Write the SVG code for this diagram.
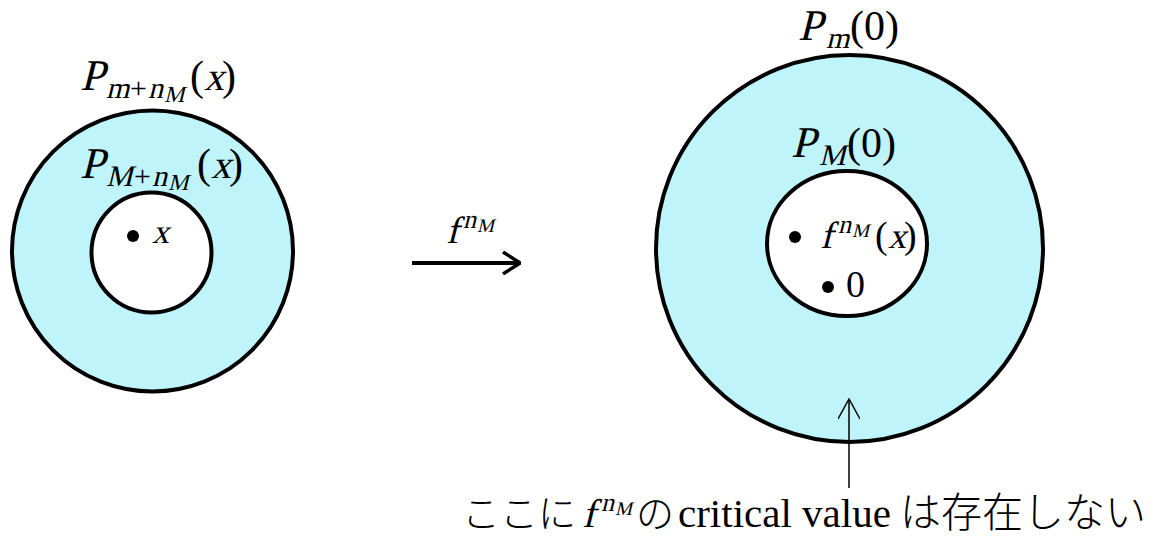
<svg xmlns="http://www.w3.org/2000/svg" width="1168" height="538" viewBox="0 0 1168 538">
<style>
.ann{fill:#bff5fa;stroke:#000;stroke-width:4}
.hole{fill:#fff;stroke:#000;stroke-width:4}
.m,.r{font-family:"Liberation Serif",serif;font-style:normal;fill:#000}
.jp{font-family:"Noto Sans CJK JP",sans-serif;font-weight:300;fill:#000}
.dot{fill:#000}
</style>
<defs>
<marker id="open" viewBox="0 0 20 24" refX="19" refY="12" markerWidth="20" markerHeight="24" markerUnits="userSpaceOnUse" orient="auto">
<path d="M2 1 L19 12 L2 23" fill="none" stroke="#000" stroke-width="3.5"/>
</marker>
<marker id="thin" viewBox="0 0 26 22" refX="25" refY="11" markerWidth="26" markerHeight="22" markerUnits="userSpaceOnUse" orient="auto">
<path d="M5 0 L25 11 L5 22" fill="none" stroke="#000" stroke-width="1.5"/>
</marker>
</defs>
<g id="left-region">
<circle class="ann" cx="152.5" cy="251" r="140.5"/>
<circle class="hole" cx="151.5" cy="252.5" r="60"/>
<circle class="dot" cx="133" cy="236" r="6"/>
<text class="m" transform="translate(152 243) skewX(-14)" font-size="34">x</text>
<text class="m" transform="translate(80 90) skewX(-14)" font-size="44">P</text>
<text class="m" transform="translate(106 98) skewX(-14)" font-size="30">m</text>
<text class="r" x="130" y="98" font-size="30">+</text>
<text class="m" transform="translate(148 98) skewX(-14)" font-size="30">n</text>
<text class="m" transform="translate(164 102) skewX(-14)" font-size="23">M</text>
<text class="r" x="190" y="90" font-size="42">(</text>
<text class="m" transform="translate(204 90) skewX(-14)" font-size="40">x</text>
<text class="r" x="222" y="90" font-size="42">)</text>
<text class="m" transform="translate(80 178) skewX(-14)" font-size="44">P</text>
<text class="m" transform="translate(106 186) skewX(-14)" font-size="30">M</text>
<text class="r" x="134" y="186" font-size="30">+</text>
<text class="m" transform="translate(152 186) skewX(-14)" font-size="30">n</text>
<text class="m" transform="translate(168 190) skewX(-14)" font-size="23">M</text>
<text class="r" x="197" y="178" font-size="42">(</text>
<text class="m" transform="translate(211 178) skewX(-14)" font-size="40">x</text>
<text class="r" x="229" y="178" font-size="42">)</text>
</g>
<g id="right-region">
<circle class="ann" cx="849.5" cy="248.5" r="193.5"/>
<ellipse class="hole" cx="847" cy="243.5" rx="80" ry="72.5"/>
<circle class="dot" cx="795" cy="237" r="6"/>
<circle class="dot" cx="828" cy="287" r="6"/>
<text class="m" transform="translate(820 248) skewX(-14)" font-size="38">f</text>
<text class="m" transform="translate(838 233) skewX(-14)" font-size="26">n</text>
<text class="m" transform="translate(852 237) skewX(-14)" font-size="19">M</text>
<text class="r" x="875" y="248" font-size="38">(</text>
<text class="m" transform="translate(888 248) skewX(-14)" font-size="36">x</text>
<text class="r" x="904" y="248" font-size="38">)</text>
<text class="r" x="846" y="297" font-size="38">0</text>
<text class="m" transform="translate(798 40) skewX(-14)" font-size="44">P</text>
<text class="m" transform="translate(826 48) skewX(-14)" font-size="30">m</text>
<text class="r" x="850" y="40" font-size="42">(</text>
<text class="r" x="864" y="40" font-size="42">0</text>
<text class="r" x="885" y="40" font-size="42">)</text>
<text class="m" transform="translate(791 157) skewX(-14)" font-size="44">P</text>
<text class="m" transform="translate(819 165) skewX(-14)" font-size="30">M</text>
<text class="r" x="847" y="157" font-size="42">(</text>
<text class="r" x="861" y="157" font-size="42">0</text>
<text class="r" x="882" y="157" font-size="42">)</text>
</g>
<g id="connectors">
<line x1="412" y1="263" x2="520" y2="263" stroke="#000" stroke-width="4" marker-end="url(#open)"/>
<line x1="849" y1="488" x2="849" y2="399" stroke="#000" stroke-width="1.5" marker-end="url(#thin)"/>
</g>
<g id="map-label">
<text class="m" transform="translate(446 243) skewX(-14)" font-size="38">f</text>
<text class="m" transform="translate(463 228) skewX(-14)" font-size="26">n</text>
<text class="m" transform="translate(477 232) skewX(-14)" font-size="19">M</text>
</g>
<g id="note">
<text class="jp" x="462" y="527" font-size="38">ここに</text>
<text class="m" transform="translate(582 527) skewX(-14)" font-size="40">f</text>
<text class="m" transform="translate(601 511) skewX(-14)" font-size="26">n</text>
<text class="m" transform="translate(615 515) skewX(-14)" font-size="19">M</text>
<text class="jp" x="636" y="527" font-size="38">の</text>
<text class="r" x="678" y="527" font-size="41">critical value</text>
<text class="jp" x="900" y="527" font-size="41">は存在しない</text>
</g>
</svg>
